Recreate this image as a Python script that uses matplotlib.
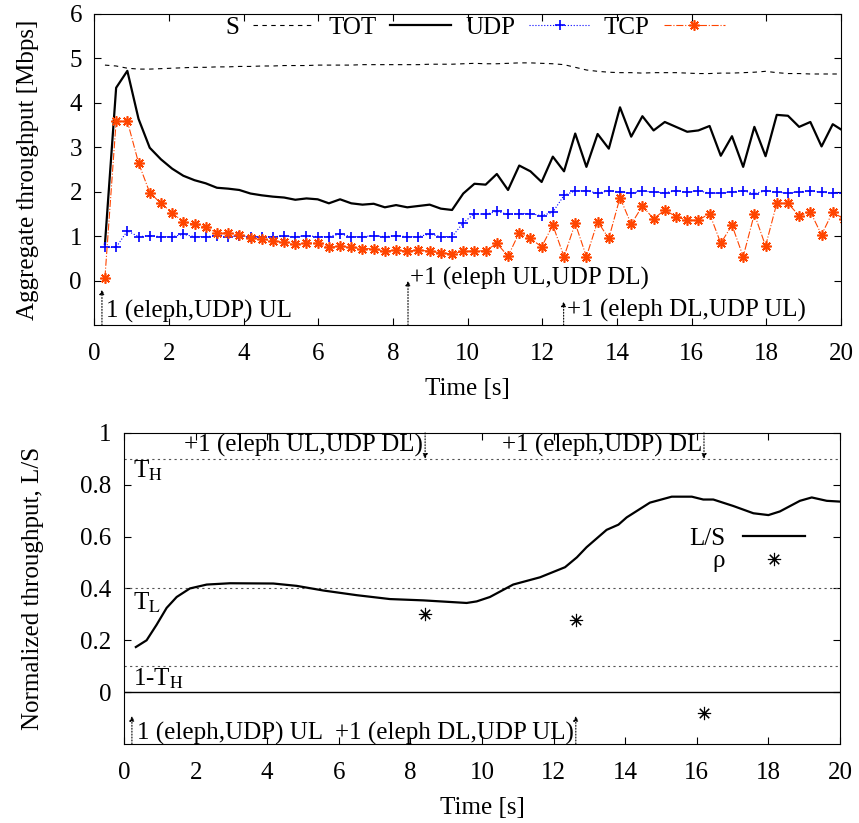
import matplotlib
matplotlib.use('Agg')
import matplotlib.pyplot as plt
import numpy as np

plt.rcParams['font.family'] = ['Liberation Serif', 'DejaVu Serif']
plt.rcParams['mathtext.fontset'] = 'stix'
plt.rcParams['font.size'] = 18

# Sampling instants of the throughput traces [s]
t = 0.28 + 0.3 * np.arange(67)

# Aggregate throughput per class [Mbps]
udp = [0.75, 0.75, 1.12, 0.99, 1.01, 0.99, 0.99, 1.04, 0.99, 0.99, 1.01, 0.99, 1.01, 0.99, 0.99, 0.99, 1.00,
       0.99, 1.01, 0.99, 0.99, 1.05, 0.99, 0.99, 1.01, 0.99, 1.01, 0.99, 0.99, 1.05, 0.99, 0.99, 1.30,
       1.51, 1.49, 1.56, 1.49, 1.51, 1.51, 1.46, 1.54, 1.92, 2.02, 2.02, 1.97, 2.02, 2.00, 1.97, 2.02, 1.99,
       1.98, 2.02, 1.99, 2.02, 1.97, 1.97, 2.00, 2.02, 1.96, 2.02, 1.99, 1.97, 2.00, 2.02, 1.99, 1.97, 1.98]
tcp = [0.07, 3.59, 3.59, 2.65, 1.98, 1.74, 1.53, 1.32, 1.27, 1.20, 1.08, 1.08, 1.03, 0.97, 0.93, 0.90, 0.87,
       0.82, 0.85, 0.84, 0.75, 0.78, 0.75, 0.72, 0.72, 0.66, 0.69, 0.66, 0.69, 0.66, 0.63, 0.60, 0.66,
       0.67, 0.67, 0.84, 0.55, 1.08, 0.95, 0.76, 1.25, 0.54, 1.29, 0.54, 1.33, 0.95, 1.87, 1.27, 1.68, 1.39,
       1.59, 1.44, 1.36, 1.36, 1.51, 0.84, 1.25, 0.54, 1.50, 0.78, 1.74, 1.74, 1.46, 1.55, 1.03, 1.55, 1.38]
tot = [0.82, 4.34, 4.72, 3.64, 2.99, 2.73, 2.52, 2.36, 2.26, 2.19, 2.09, 2.07, 2.04, 1.96, 1.92, 1.89, 1.87,
       1.82, 1.85, 1.83, 1.74, 1.83, 1.74, 1.71, 1.73, 1.65, 1.70, 1.65, 1.68, 1.71, 1.62, 1.59, 1.96,
       2.18, 2.16, 2.40, 2.04, 2.59, 2.46, 2.22, 2.79, 2.46, 3.31, 2.56, 3.30, 2.97, 3.90, 3.24, 3.70, 3.38,
       3.57, 3.46, 3.35, 3.38, 3.48, 2.81, 3.25, 2.56, 3.46, 2.80, 3.73, 3.71, 3.46, 3.57, 3.02, 3.52, 3.36]
cap = [4.85, 4.83, 4.78, 4.76, 4.76, 4.77, 4.78, 4.79, 4.80, 4.80, 4.81, 4.81, 4.82, 4.82, 4.83, 4.83, 4.84,
       4.84, 4.84, 4.85, 4.85, 4.85, 4.85, 4.86, 4.86, 4.86, 4.86, 4.86, 4.86, 4.87, 4.87, 4.87, 4.88,
       4.89, 4.88, 4.88, 4.89, 4.90, 4.90, 4.89, 4.88, 4.86, 4.80, 4.74, 4.71, 4.69, 4.68, 4.68, 4.67, 4.68,
       4.68, 4.68, 4.67, 4.66, 4.66, 4.67, 4.67, 4.68, 4.69, 4.71, 4.68, 4.66, 4.66, 4.65, 4.65, 4.65, 4.65]

# Normalized throughput L/S and rho estimates
ls_t = [0.33, 0.63, 0.91, 1.19, 1.47, 1.84, 2.31, 2.96, 4.17, 4.82, 5.57, 6.5, 7.43, 8.36, 9.57, 9.85,
        10.22, 10.87, 11.62, 12.32, 12.65, 12.92, 13.48, 13.81, 14.04, 14.69, 15.3, 15.86, 16.18, 16.46,
        17.02, 17.58, 18.0, 18.32, 18.88, 19.21, 19.63, 20.0]
ls_v = [0.174, 0.20, 0.26, 0.325, 0.367, 0.40, 0.415, 0.42, 0.419, 0.41, 0.392, 0.374, 0.359, 0.354, 0.344, 0.35,
        0.367, 0.415, 0.443, 0.482, 0.52, 0.559, 0.626, 0.646, 0.674, 0.731, 0.754, 0.754, 0.743, 0.743,
        0.718, 0.69, 0.683, 0.697, 0.738, 0.751, 0.738, 0.735]
rho_t = [8.41, 12.62, 16.2]
rho_v = [0.303, 0.277, -0.082]

# Flow arrival events
ev_top = [0.2, 8.4, 12.57]
ev_bottom = [0.22, 12.62]
ev_upper = [8.41, 16.2]

orange = '#ff4500'
star = (8, 2, 0)
arrow = dict(arrowstyle='-|>', ls=':', color='black', lw=0.8, shrinkA=0, shrinkB=0, mutation_scale=7)

fig = plt.figure(figsize=(8.59, 8.23), dpi=100)

# Top panel: aggregate throughput
ax1 = fig.add_axes([0.110, 0.605, 0.869, 0.378])
ax1.plot(t, cap, color='black', lw=0.8, ls=(0, (4, 4)), label='S')
ax1.plot(t, tot, color='black', lw=1.6, label='TOT')
ax1.plot(t, udp, color='#0000ff', lw=0.8, ls=':', marker='+', ms=7, mew=1.2, label='UDP')
ax1.plot(t, tcp, color=orange, lw=0.8, ls='-.', marker=star, ms=7.5, mew=1.2, label='TCP')
ax1.set_xlim(0, 20)
ax1.set_ylim(-1, 6)
ax1.set_xticks(range(0, 21, 2))
ax1.set_yticks(range(0, 7))
ax1.tick_params(direction='in', top=True, right=True, length=5, pad=9)
ax1.tick_params(axis='x', pad=13)
ax1.set_xlabel('Time [s]', labelpad=9)
ax1.set_ylabel('Aggregate throughput [Mbps]', labelpad=22)
ax1.legend(loc='center', bbox_to_anchor=(0.51, 0.955), ncol=4, frameon=False, markerfirst=False,
           handlelength=2.45, handletextpad=0.55, columnspacing=0.55, numpoints=1, borderpad=0)

ax1.annotate('', xy=(ev_top[0], -0.2), xytext=(ev_top[0], -1), arrowprops=arrow)
ax1.annotate('', xy=(ev_top[1], 0.0), xytext=(ev_top[1], -1), arrowprops=arrow)
ax1.annotate('', xy=(ev_top[2], -0.47), xytext=(ev_top[2], -1), arrowprops=arrow)
ax1.text(0.3, -0.7, '1 (eleph,UDP) UL', va='center')
ax1.text(8.45, 0.05, '+1 (eleph UL,UDP DL)', va='center')
ax1.text(12.65, -0.66, '+1 (eleph DL,UDP UL)', va='center')

# Bottom panel: normalized throughput
ax2 = fig.add_axes([0.1444, 0.096, 0.8335, 0.378])
for lvl in [0.9, 0.4, 0.1]:
    ax2.axhline(lvl, color='#555555', lw=0.8, ls=(0, (2, 3)))
ax2.axhline(0, color='black', lw=1.0)
ls_line, = ax2.plot(ls_t, ls_v, color='black', lw=1.6)
rho_pts, = ax2.plot(rho_t, rho_v, ls='none', marker=star, ms=9.5, mew=0.8, color='black')
ax2.set_xlim(0, 20)
ax2.set_ylim(-0.2, 1)
ax2.set_xticks(range(0, 21, 2))
ax2.set_yticks([0, 0.2, 0.4, 0.6, 0.8, 1])
ax2.set_yticklabels(['0', '0.2', '0.4', '0.6', '0.8', '1'])
ax2.tick_params(direction='in', top=True, right=True, length=5, pad=9)
ax2.tick_params(axis='x', pad=13)
ax2.set_xlabel('Time [s]', labelpad=9)
ax2.set_ylabel('Normalized throughput, L/S', labelpad=26)
ax2.legend([ls_line, rho_pts], ['L/S', 'ρ'], loc='center', bbox_to_anchor=(0.87, 0.624), frameon=False,
           markerfirst=False, handlelength=2.5, handletextpad=0.7, labelspacing=0.0, numpoints=1,
           borderpad=0)

ax2.text(0.25, 0.855, r'T$_\mathrm{H}$', va='center')
ax2.text(0.25, 0.345, r'T$_\mathrm{L}$', va='center')
ax2.text(0.25, 0.05, r'1-T$_\mathrm{H}$', va='center')

for x in ev_upper:
    ax2.annotate('', xy=(x, 0.9), xytext=(x, 1.0), arrowprops=arrow)
ax2.text(ev_upper[0] - 0.05, 0.95, '+1 (eleph UL,UDP DL)', ha='right', va='center')
ax2.text(ev_upper[1] - 0.05, 0.95, '+1 (eleph,UDP) DL', ha='right', va='center')
for x in ev_bottom:
    ax2.annotate('', xy=(x, -0.092), xytext=(x, -0.2), arrowprops=arrow)
ax2.text(0.36, -0.158, '1 (eleph,UDP) UL', va='center')
ax2.text(ev_bottom[1] - 0.05, -0.158, '+1 (eleph DL,UDP UL)', ha='right', va='center')

fig.savefig('out.png', dpi=100)
